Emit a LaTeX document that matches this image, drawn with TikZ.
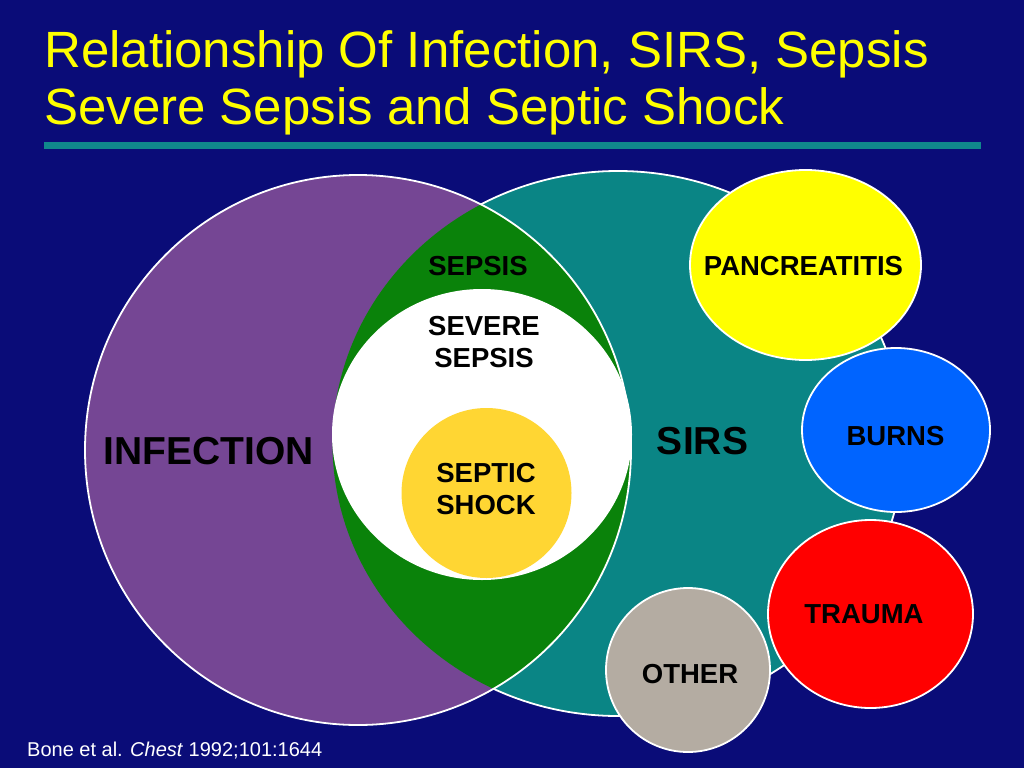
\documentclass[tikz,border=0pt]{standalone}
\usepackage{fontspec}
\setmainfont{Liberation Sans}
\definecolor{bgblue}{RGB}{10,12,120}
\definecolor{titleyellow}{RGB}{255,255,0}
\definecolor{ruleteal}{RGB}{16,136,140}
\definecolor{sirsteal}{RGB}{10,133,133}
\definecolor{infpurple}{RGB}{117,70,148}
\definecolor{sepgreen}{RGB}{10,130,10}
\definecolor{shockyellow}{RGB}{255,214,51}
\definecolor{pancyellow}{RGB}{255,255,0}
\definecolor{burnsblue}{RGB}{0,100,255}
\definecolor{traumared}{RGB}{255,0,0}
\definecolor{othergray}{RGB}{180,172,162}
\tikzset{
  blob/.style={draw=white, line width=1.8pt},
  lbl/.style={inner sep=0pt, text=black, font=\fontsize{27.5}{32}\selectfont\bfseries, align=center},
  biglbl/.style={inner sep=0pt, text=black, font=\fontsize{39}{44}\selectfont\bfseries},
  titletext/.style={inner sep=0pt, anchor=base west, text=titleyellow, font=\fontsize{51}{60}\selectfont},
}
\begin{document}
\begin{tikzpicture}[x=1pt,y=-1pt]
\useasboundingbox (0,0) rectangle (1024,768);
\fill[bgblue] (0,0) rectangle (1024,768);
% title
\node[titletext] (t1) at (44,67) {Relationship Of Infection, SIRS, Sepsis};
\node[titletext] (t2) at (44,124) {Severe Sepsis and Septic Shock};
\fill[ruleteal] (44,142) rectangle (981,149);
% SIRS and infection
\fill[sirsteal] (618,443.5) ellipse [x radius=285.5pt, y radius=272.5pt];
\draw[blob] (618,443.5) ellipse [x radius=285.5pt, y radius=272.5pt];
\fill[infpurple] (358,450) ellipse [x radius=273pt, y radius=275pt];
\begin{scope}
  \clip (358,450) ellipse [x radius=273pt, y radius=275pt];
  \fill[sepgreen] (618,443.5) ellipse [x radius=285.5pt, y radius=272.5pt];
\end{scope}
\draw[blob] (358,450) ellipse [x radius=273pt, y radius=275pt];
% severe sepsis and septic shock
\fill[white] (482,434.5) ellipse [x radius=150pt, y radius=145.5pt];
\fill[shockyellow] (486.5,493) circle [radius=85pt];
% causes
\fill[pancyellow] (805.5,265) ellipse [x radius=115.5pt, y radius=95pt];
\draw[blob] (805.5,265) ellipse [x radius=115.5pt, y radius=95pt];
\fill[burnsblue] (896,430) ellipse [x radius=94pt, y radius=82pt];
\draw[blob] (896,430) ellipse [x radius=94pt, y radius=82pt];
\fill[traumared] (870.5,614) ellipse [x radius=102.5pt, y radius=94pt];
\draw[blob] (870.5,614) ellipse [x radius=102.5pt, y radius=94pt];
\fill[othergray] (688,670) circle [radius=82pt];
\draw[blob] (688,670) circle [radius=82pt];
% labels
\node[lbl] (sepsis) at (478,266) {SEPSIS};
\node[lbl] (severe) at (484,342) {SEVERE\\SEPSIS};
\node[lbl] (shock) at (486,489) {SEPTIC\\SHOCK};
\node[biglbl] (infection) at (209,451) {INFECTION};
\node[biglbl] (sirs) at (702.5,441) {SIRS};
\node[lbl] (panc) at (803.5,266) {PANCREATITIS};
\node[lbl] (burns) at (895.5,436) {BURNS};
\node[lbl] (trauma) at (864,614) {TRAUMA};
\node[lbl] (other) at (690,674) {OTHER};
% reference
\node[inner sep=0pt, anchor=base west, text=white, font=\fontsize{20}{24}\selectfont] (ref) at (27,756) {Bone et al. \textit{Chest} 1992;101:1644};
\end{tikzpicture}
\end{document}
